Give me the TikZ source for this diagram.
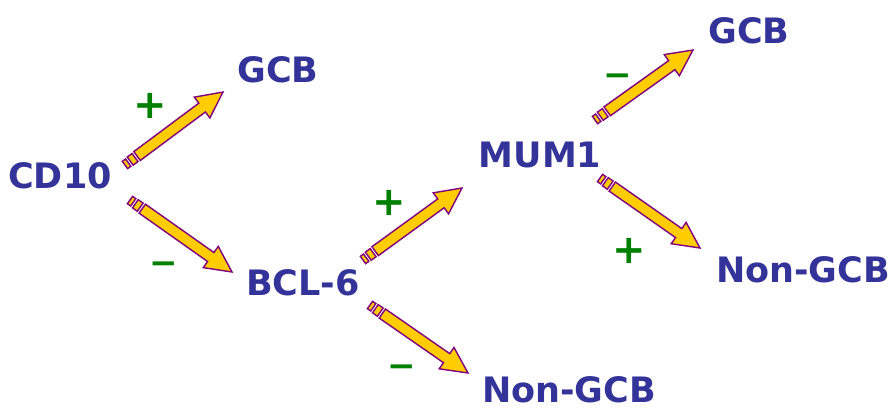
\documentclass[tikz,border=0pt]{standalone}
\usepackage{fontspec}
\setmainfont{DejaVu Sans}
\usetikzlibrary{calc}
\definecolor{txtblue}{RGB}{51,51,153}
\definecolor{sgngreen}{RGB}{0,128,0}
\definecolor{arrfill}{RGB}{255,204,0}
\definecolor{arrline}{RGB}{128,0,128}
\tikzset{
  lbl/.style={font=\fontsize{35}{35}\selectfont\bfseries, text=txtblue, inner sep=0pt, anchor=base},
  plussign/.style={font=\fontsize{40}{40}\selectfont\bfseries, text=sgngreen, inner sep=0pt},
  minussign/.style={font=\fontsize{34}{34}\selectfont\bfseries, text=sgngreen, inner sep=0pt},
  arrbody/.style={fill=arrfill, draw=arrline, line width=1.4pt, line join=miter},
}
\newcommand\stripearrow[2]{%
  \path let \p1=($(#2)-(#1)$) in \pgfextra{\pgfmathsetmacro\sAng{atan2(\y1,\x1)}\pgfmathsetmacro\sLen{veclen(\x1,\y1)}\global\let\gAng\sAng\global\let\gLen\sLen};
  \begin{scope}[shift={(#1)},rotate=\gAng,x=1pt,y=1pt]
    \filldraw[arrbody] (0,-4.5) rectangle (4,4.5);
    \filldraw[arrbody] (6.5,-5) rectangle (12.5,5);
    \filldraw[arrbody] (15,-5.5) -- ({\gLen-26},-5.5) -- ({\gLen-26},-13) -- (\gLen,0) -- ({\gLen-26},13) -- ({\gLen-26},5.5) -- (15,5.5) -- cycle;
  \end{scope}}
\begin{document}
\begin{tikzpicture}[x=1pt,y=-1pt]
\useasboundingbox (0,0) rectangle (894,415);
% labels
\node[lbl] (cd10) at (60,188) {CD10};
\node[lbl] (gcba) at (278,82) {GCB};
\node[lbl] (bcl6) at (303,295) {BCL-6};
\node[lbl] (mum1) at (540,167) {MUM1};
\node[lbl] (ngcba) at (569,402) {Non-GCB};
\node[lbl] (gcbb) at (749,43) {GCB};
\node[lbl] (ngcbb) at (803,282) {Non-GCB};
% signs
\node[plussign] (s1) at (150,106) {+};
\node[minussign] (s2) at (164,268) {−};
\node[plussign] (s3) at (389,203) {+};
\node[minussign] (s4) at (402,371) {−};
\node[minussign] (s5) at (618,80) {−};
\node[plussign] (s6) at (629,251) {+};
% arrow ends
\coordinate (a1t) at (125,165); \coordinate (a1h) at (223,92);
\coordinate (a2t) at (130,200); \coordinate (a2h) at (232,272);
\coordinate (a3t) at (363,260); \coordinate (a3h) at (462,188);
\coordinate (a4t) at (370,305); \coordinate (a4h) at (468,373);
\coordinate (a5t) at (595,120); \coordinate (a5h) at (693,50);
\coordinate (a6t) at (600,178); \coordinate (a6h) at (700,248);
\stripearrow{a1t}{a1h}
\stripearrow{a2t}{a2h}
\stripearrow{a3t}{a3h}
\stripearrow{a4t}{a4h}
\stripearrow{a5t}{a5h}
\stripearrow{a6t}{a6h}
\end{tikzpicture}
\end{document}
